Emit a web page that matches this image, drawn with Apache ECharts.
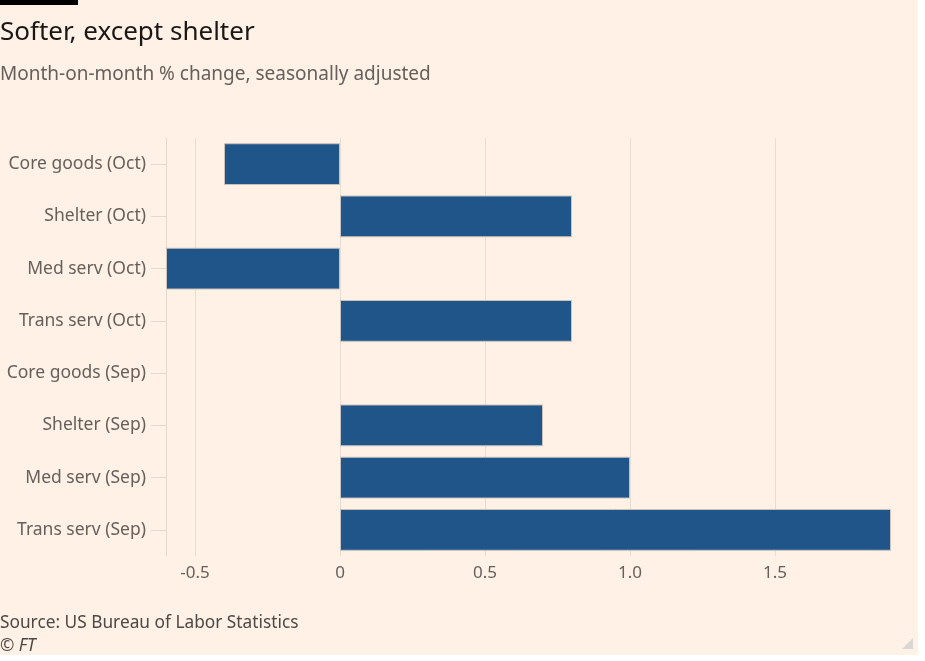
<!DOCTYPE html>
<html>
<head>
<meta charset="utf-8">
<script src="https://cdn.jsdelivr.net/npm/echarts@6/dist/echarts.min.js"></script>
<style>
  html, body { margin: 0; padding: 0; background: #ffffff; }
  #wrap { position: relative; width: 925px; height: 661px; background: #ffffff; }
  #chart { position: absolute; left: 0; top: 0; width: 918px; height: 655px; background: #fff1e5; }
  #grip { position: absolute; left: 902px; top: 638px; width: 0; height: 0;
          border-left: 11px solid transparent; border-bottom: 11px solid #d9d6d3; }
</style>
</head>
<body>
<div id="wrap"><div id="chart"></div><div id="grip"></div></div>
<script>
const categories = [
  'Core goods (Oct)', 'Shelter (Oct)', 'Med serv (Oct)', 'Trans serv (Oct)',
  'Core goods (Sep)', 'Shelter (Sep)', 'Med serv (Sep)', 'Trans serv (Sep)'
];
const values = [-0.4, 0.8, -0.6, 0.8, 0, 0.7, 1.0, 1.9];
const xTickValues = [-0.5, 0, 0.5, 1, 1.5];
const titleText = 'Softer, except shelter';
const subtitleText = 'Month-on-month % change, seasonally adjusted';
const sourceText = 'Source: US Bureau of Labor Statistics';
const creditText = '© FT';

const FONT = '"Noto Sans", "Open Sans", sans-serif';
const chart = echarts.init(document.getElementById('chart'), null, { renderer: 'canvas' });
chart.setOption({
  backgroundColor: '#fff1e5',
  animation: false,
  grid: { left: 166, right: 27, top: 138, bottom: 99, containLabel: false },
  xAxis: {
    type: 'value',
    min: -0.6,
    max: 1.9,
    axisLine: { show: false },
    axisTick: { show: false, customValues: xTickValues },
    splitLine: { show: true, lineStyle: { color: '#e9ddd2', width: 1 } },
    axisLabel: {
      customValues: xTickValues,
      margin: 9,
      color: '#66605c',
      fontFamily: FONT,
      fontSize: 17,
      formatter: function (v) { return (v === 0) ? '0' : (Number.isInteger(v) ? v.toFixed(1) : String(v)); }
    }
  },
  yAxis: {
    type: 'category',
    inverse: true,
    data: categories,
    axisLine: { show: true, onZero: false, lineStyle: { color: '#e3d8ce', width: 1 } },
    axisTick: { show: true, length: 15, alignWithLabel: true, lineStyle: { color: '#e3d8ce' } },
    splitLine: { show: false },
    axisLabel: { margin: 20, color: '#66605c', fontFamily: FONT, fontSize: 17.5, padding: [4, 0, 0, 0] }
  },
  series: [{
    type: 'bar',
    data: values.map(function (v) {
      return v === 0 ? { value: v, itemStyle: { borderWidth: 0 } } : v;
    }),
    barWidth: '80%',
    itemStyle: { color: '#20558a', borderColor: '#cbc3bb', borderWidth: 1 },
    silent: true
  }],
  graphic: [
    { type: 'rect', left: 0, top: 0, shape: { width: 78, height: 5 }, style: { fill: '#000000' } },
    { type: 'text', x: 0, y: 33, style: { text: titleText, fill: '#1a1817', font: '400 26px ' + FONT, textVerticalAlign: 'middle' } },
    { type: 'text', x: 0, y: 75, style: { text: subtitleText, fill: '#66605c', font: '400 19px ' + FONT, textVerticalAlign: 'middle' } },
    { type: 'text', x: 0, y: 623, style: { text: sourceText, fill: '#4d4845', font: '400 17.3px ' + FONT, textVerticalAlign: 'middle' } },
    { type: 'text', x: 0, y: 646, style: { text: creditText, fill: '#4d4845', font: 'italic 400 17.3px ' + FONT, textVerticalAlign: 'middle' } }
  ]
});
</script>
</body>
</html>
